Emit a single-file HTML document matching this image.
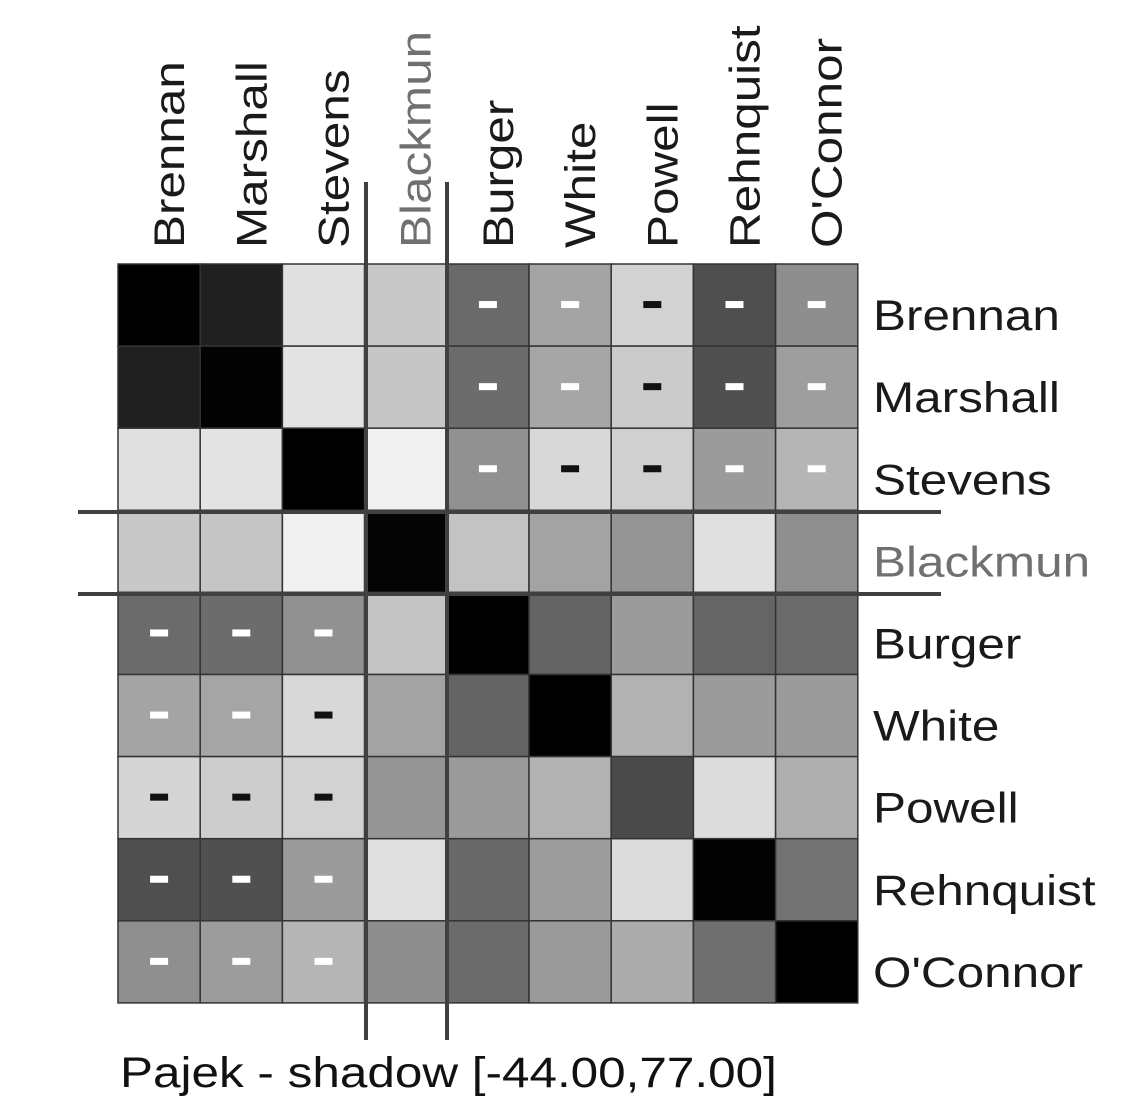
<!DOCTYPE html>
<html><head><meta charset="utf-8"><style>
html,body{margin:0;padding:0;background:#fff;}
svg{display:block;font-family:"Liberation Sans",sans-serif;}
</style></head><body>
<svg id="chart" width="1146" height="1096" viewBox="0 0 1146 1096"></svg>
<script>
const names = ["Brennan","Marshall","Stevens","Blackmun","Burger","White","Powell","Rehnquist","O'Connor"];
// cell gray level (0 = black, 255 = white)
const row0 = [0x00,0x20,0xe0,0xc8,0x6a,0xa4,0xd2,0x4f,0x8e];
const row1 = [0x20,0x03,0xe3,0xc6,0x6c,0xa6,0xcb,0x50,0x9e];
const row2 = [0xe0,0xe3,0x00,0xf1,0x91,0xd8,0xd0,0x9b,0xb5];
const row3 = [0xc8,0xc5,0xf1,0x04,0xc3,0xa3,0x94,0xe0,0x8f];
const row4 = [0x6b,0x6c,0x91,0xc4,0x00,0x64,0x9b,0x65,0x6b];
const row5 = [0xa4,0xa5,0xd8,0xa3,0x64,0x00,0xb2,0x9b,0x9b];
const row6 = [0xd5,0xcd,0xd2,0x95,0x9b,0xb2,0x4a,0xdc,0xae];
const row7 = [0x4f,0x50,0x9b,0xe0,0x68,0x9d,0xdc,0x03,0x72];
const row8 = [0x8f,0x9c,0xb5,0x8e,0x6b,0x9a,0xac,0x70,0x00];
const values = [row0,row1,row2,row3,row4,row5,row6,row7,row8];
// negative-sign markers (1 = minus shown)
const neg0 = [0,0,0,0,1,1,1,1,1];
const neg1 = [0,0,0,0,1,1,1,1,1];
const neg2 = [0,0,0,0,1,1,1,1,1];
const neg3 = [0,0,0,0,0,0,0,0,0];
const neg4 = [1,1,1,0,0,0,0,0,0];
const neg5 = [1,1,1,0,0,0,0,0,0];
const neg6 = [1,1,1,0,0,0,0,0,0];
const neg7 = [1,1,1,0,0,0,0,0,0];
const neg8 = [1,1,1,0,0,0,0,0,0];
const negs = [neg0,neg1,neg2,neg3,neg4,neg5,neg6,neg7,neg8];
const titleText = "Pajek - shadow [-44.00,77.00]";

const NS = "http://www.w3.org/2000/svg";
const svg = document.getElementById("chart");
const x0 = 118, y0 = 264, cw = 82.2, ch = 82.1;
const SX = 1.15, FS = 43;
const xPos = i => x0 + i * cw;
const yPos = j => y0 + j * ch;
function mk(tag, attrs){ const e = document.createElementNS(NS, tag); for (const k in attrs) e.setAttribute(k, attrs[k]); svg.appendChild(e); return e; }
const hex = v => { const h = v.toString(16).padStart(2,"0"); return "#"+h+h+h; };

values.forEach((row, r) => row.forEach((v, c) => {
  const rect = mk("rect", {x:xPos(c), y:yPos(r), width:cw, height:ch, fill:hex(v), stroke:"#333", "stroke-width":1.5});
  
  
  if (negs[r][c]) {
    const m = mk("rect", {x:xPos(c)+cw/2-9, y:yPos(r)+ch/2-4, width:18, height:7, fill: v > 0xc0 ? "#111" : "#fff"});
    
    
  }
}));

names.forEach((n, i) => {
  const cx = xPos(i) + cw/2 + 25;
  const t = mk("text", {x:0, y:0, transform:`translate(${cx},248) rotate(-90) scale(${SX},1)`, "font-size":FS, fill: n==="Blackmun" ? "#707070" : "#1a1a1a"});
  t.textContent = n;
  
  
  const t2 = mk("text", {x:0, y:0, transform:`translate(873,${yPos(i)+ch/2+25}) scale(${SX},1)`, "font-size":FS, fill: n==="Blackmun" ? "#707070" : "#1a1a1a"});
  t2.textContent = n;
  
  
});

const l1 = mk("line", {x1:366, y1:182, x2:366, y2:1040, stroke:"#404040", "stroke-width":4});


const l2 = mk("line", {x1:447, y1:182, x2:447, y2:1040, stroke:"#404040", "stroke-width":4});


const l3 = mk("line", {x1:78, y1:512, x2:941, y2:512, stroke:"#404040", "stroke-width":4});


const l4 = mk("line", {x1:78, y1:594, x2:941, y2:594, stroke:"#404040", "stroke-width":4});



const title = mk("text", {x:0, y:0, transform:`translate(120,1087) scale(${SX},1)`, "font-size":FS, fill:"#111"});
title.textContent = titleText;


</script>
</body></html>
